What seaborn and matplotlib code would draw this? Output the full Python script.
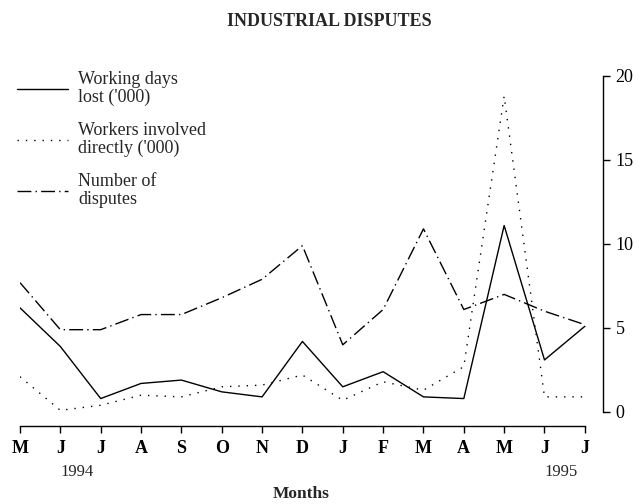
import pandas as pd
import seaborn as sns
import matplotlib.pyplot as plt

# --- Data ---
months = ['M', 'J', 'J', 'A', 'S', 'O', 'N', 'D', 'J', 'F', 'M', 'A', 'M', 'J', 'J']
working_days = [6.2, 3.9, 0.8, 1.7, 1.9, 1.2, 0.9, 4.2, 1.5, 2.4, 0.9, 0.8, 11.1, 3.1, 5.1]
workers = [2.1, 0.1, 0.4, 1.0, 0.9, 1.5, 1.6, 2.2, 0.7, 1.8, 1.3, 2.7, 18.8, 0.9, 0.9]
disputes = [7.7, 4.9, 4.9, 5.8, 5.8, 6.8, 7.9, 9.9, 4.0, 6.1, 10.9, 6.1, 7.0, 6.0, 5.2]
years = {1: '1994', 13: '1995'}

labels = ["Working days\nlost ('000)", "Workers involved\ndirectly ('000)", "Number of\ndisputes"]
df = pd.DataFrame({'pos': list(range(len(months))) * 3,
                   'value': working_days + workers + disputes,
                   'series': [labels[0]] * 15 + [labels[1]] * 15 + [labels[2]] * 15})

sns.set_style('white')
plt.rcParams['font.family'] = ['Liberation Serif', 'DejaVu Serif']

fig = plt.figure(figsize=(6.39, 5.04), dpi=100)
ax = fig.add_axes([20 / 639, 1 - 412 / 504, 583 / 639, 336 / 504])

sns.lineplot(data=df, x='pos', y='value', style='series', color='black',
             dashes={labels[0]: '', labels[1]: (1, 5), labels[2]: (10, 3, 1, 3)},
             linewidth=1.0, ax=ax, legend=True)

ax.set_xlim(0, 14.45)
ax.set_ylim(0, 20)

# spines: right y-axis, detached bottom x-axis
for s in ['top', 'left']:
    ax.spines[s].set_visible(False)
ax.spines['right'].set_bounds(0, 20)
ax.spines['bottom'].set_position(('outward', 10))
ax.spines['bottom'].set_bounds(0, 14)
for s in ['right', 'bottom']:
    ax.spines[s].set_color('black')
    ax.spines[s].set_linewidth(1.0)

ax.yaxis.tick_right()
ax.set_yticks([0, 5, 10, 15, 20])
ax.set_xticks(range(len(months)))
ax.set_xticklabels(months, fontweight='bold')
ax.tick_params(axis='both', direction='out', length=5, width=1, color='black',
               labelcolor='black', bottom=True, right=True)
ax.tick_params(axis='x', pad=5, labelsize=13)
ax.tick_params(axis='y', pad=4, labelsize=13)
ax.set_xlabel('')
ax.set_ylabel('')

for x, yr in years.items():
    ax.annotate(yr, xy=(x, -0.179), xycoords=('data', 'axes fraction'),
                ha='left', va='center', fontsize=12)

fig.text(301 / 639, 1 - 494 / 504, 'Months', ha='center', va='center',
         fontsize=12.5, fontweight='bold')
fig.text(329 / 639, 1 - 21 / 504, 'INDUSTRIAL DISPUTES', ha='center', va='center',
         fontsize=13, fontweight='bold')

handles, labs = ax.get_legend_handles_labels()
leg = ax.legend(handles, labs, loc='upper left', bbox_to_anchor=(17 / 639, 1 - 71 / 504),
                bbox_transform=fig.transFigure, frameon=False, fontsize=13,
                handlelength=2.8, handletextpad=0.6, labelspacing=0.9, borderpad=0,
                borderaxespad=0)
for t in leg.get_texts():
    t.set_linespacing(1.05)

fig.savefig('out.png', dpi=100, facecolor='white')
